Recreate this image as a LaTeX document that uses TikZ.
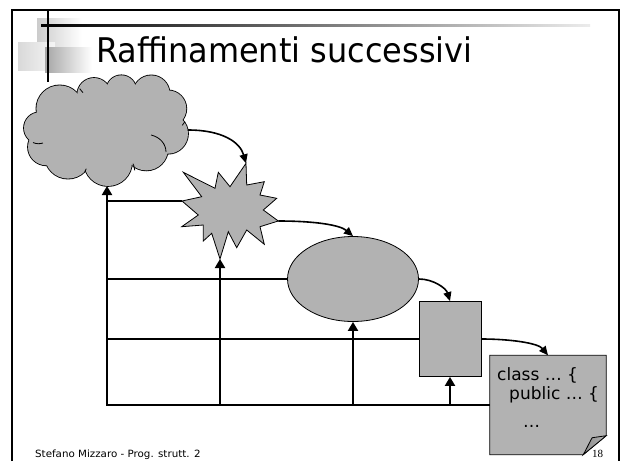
\documentclass[tikz,border=0pt]{standalone}
\usepackage{fontspec}
\usepackage{graphicx}
\setmainfont{DejaVu Sans}
\newfontfamily\pgnumfont{Liberation Serif}
\usetikzlibrary{arrows.meta,shapes.geometric,calc}
\definecolor{shapegray}{RGB}{178,178,178}
\definecolor{flapgray}{RGB}{140,140,140}
\tikzset{
  frameline/.style={line width=2pt,black},
  outline/.style={draw=black,line width=0.8pt,fill=shapegray},
  feedline/.style={line width=2pt,black},
  feedarrow/.style={line width=2pt,black,-{Triangle[length=9pt,width=10pt]}},
  flowarrow/.style={line width=1.6pt,black,-{Triangle[length=9pt,width=8pt]}},
  innerarc/.style={line width=0.8pt,black},
  codetext/.style={anchor=base west,inner sep=0pt,font=\fontsize{17}{20}\selectfont},
}
\begin{document}
\begin{tikzpicture}[x=1pt,y=-1pt]
\useasboundingbox (0,0) rectangle (623,461);
\fill[white] (0,0) rectangle (623,461);
% decoration squares
\shade[left color=gray!40, right color=white] (37,18) rectangle (82,47);
\shade[left color=gray!30, right color=gray!8] (18,42) rectangle (55,70);
\shade[left color=gray!70, right color=white] (45,47) rectangle (92,72);
% frame
\draw[frameline] (12,461) -- (12,10) -- (619,10) -- (619,461);
\draw[frameline] (48,10) -- (48,82);
\shade[left color=black, middle color=black!75, right color=gray!15] (41,24) rectangle (590,26);
% title
\node[anchor=base west,inner sep=0pt] (title) at (96,62)
  {\fontsize{34}{40}\selectfont\scalebox{0.94}[1]{Raffinamenti successivi}};
% cloud
\foreach \cx/\cy/\r in {39.7/128/15.7, 59.7/108.7/23.3, 94/94.7/16.7, 121.3/90.3/15,
  151.3/93.7/18.3, 168/108.7/18.3, 168/133.7/20, 146.3/148.7/21.7, 108/162/24,
  68/155.3/23.3, 46.3/147/18.3}
  \draw[line width=1.7pt] (\cx,\cy) circle[radius=\r];
\foreach \cx/\cy/\r in {39.7/128/15.7, 59.7/108.7/23.3, 94/94.7/16.7, 121.3/90.3/15,
  151.3/93.7/18.3, 168/108.7/18.3, 168/133.7/20, 146.3/148.7/21.7, 108/162/24,
  68/155.3/23.3, 46.3/147/18.3}
  \fill[shapegray] (\cx,\cy) circle[radius=\r];
\fill[shapegray] (39.7,128) -- (59.7,108.7) -- (94,94.7) -- (121.3,90.3) -- (151.3,93.7)
  -- (168,108.7) -- (168,133.7) -- (146.3,148.7) -- (108,162) -- (68,155.3) -- (46.3,147) -- cycle;
\fill[shapegray] (106,130) ellipse[x radius=58, y radius=34];
\draw[innerarc] (33,142.5) .. controls (36,144) and (40,144) .. (43,143);
\draw[innerarc] (151,135) .. controls (160,137) and (166,144) .. (166,152);
\draw[innerarc] (79.7,88.7) .. controls (81,90) .. (83,92.7);
\draw[innerarc] (184.7,122) .. controls (184,124) .. (182.3,125.3);
\draw[innerarc] (133,163.7) .. controls (134,166) .. (134.7,170.3);
\draw[innerarc] (84.7,172) .. controls (85,170) .. (86.3,168.7);
\coordinate (cloudE) at (188,130);
\coordinate (cloudS) at (107,186);
% star
\draw[outline] (246,163.3) -- (246.7,185) -- (264.3,181.7) -- (260,195) -- (276.7,198.3)
  -- (263.3,210) -- (278.3,221) -- (260,226.7) -- (264.3,244.3) -- (246.7,230)
  -- (236.7,247.7) -- (228.3,231.7) -- (220,259) -- (211.7,233.3) -- (203.3,241)
  -- (203.3,225) -- (181.7,226.7) -- (198.3,215) -- (182,201) -- (201.7,196.7)
  -- (183.3,172.3) -- (215,188.3) -- (218.3,172.3) -- (230,186.7) -- cycle;
\coordinate (starN) at (246,163.3);
\coordinate (starE) at (278.3,221);
\coordinate (starW) at (182,201);
\coordinate (starS) at (220,259);
% ellipse, rectangle, note
\node[ellipse,outline,minimum width=131pt,minimum height=85pt,inner sep=0pt] (ell) at (353,279) {};
\node[rectangle,outline,minimum width=62pt,minimum height=75pt,inner sep=0pt] (rect) at (450,339) {};
\node[rectangle,minimum width=116pt,minimum height=99pt,inner sep=0pt] (note) at (548,405) {};
\draw[outline] (note.north west) -- (note.north east) -- ($(note.south east)+(0,-19)$)
  -- ($(note.south east)+(-23,0)$) -- (note.south west) -- cycle;
\shade[left color=flapgray, right color=gray!60, draw=black, line width=0.8pt]
  ($(note.south east)+(-23,0)$) .. controls ($(note.south east)+(-19,-7)$) and ($(note.south east)+(-16,-14)$) .. ($(note.south east)+(-14,-17)$)
  -- ($(note.south east)+(0,-19)$) -- cycle;
\node[codetext] (l1) at (497,380) {class … \{};
\node[codetext] (l2) at (509,399) {public … \{};
\node[codetext] (l3) at (523,427) {…};
% flow arrows
\draw[flowarrow] (cloudE) .. controls (222,130) and (240,142) .. (starN);
\draw[flowarrow] (starE) .. controls (315,221) and (340,225) .. (ell.north);
\draw[flowarrow] (ell.east) .. controls (433,279) and (446,288) .. (rect.north);
\draw[flowarrow] (rect.east) .. controls (510,339) and (538,343) .. (note.north);
% feedback lines
\draw[feedarrow] (note.west) -| (cloudS);
\draw[feedline] (rect.west) -- (rect.west -| cloudS);
\draw[feedline] (ell.west) -- (ell.west -| cloudS);
\draw[feedline] (starW) -- (starW -| cloudS);
\draw[feedarrow] (starS |- note.west) -- (starS);
\draw[feedarrow] (ell.south |- note.west) -- (ell.south);
\draw[feedarrow] (rect.south |- note.west) -- (rect.south);
% footer
\node[anchor=base west,inner sep=0pt] (footer) at (35,457)
  {\fontsize{10}{12}\selectfont\scalebox{1.03}[1]{Stefano Mizzaro - Prog. strutt. 2}};
\node[anchor=base west,inner sep=0pt] (pgnum) at (592,457)
  {\pgnumfont\fontsize{11}{13}\selectfont 18};
\end{tikzpicture}
\end{document}
